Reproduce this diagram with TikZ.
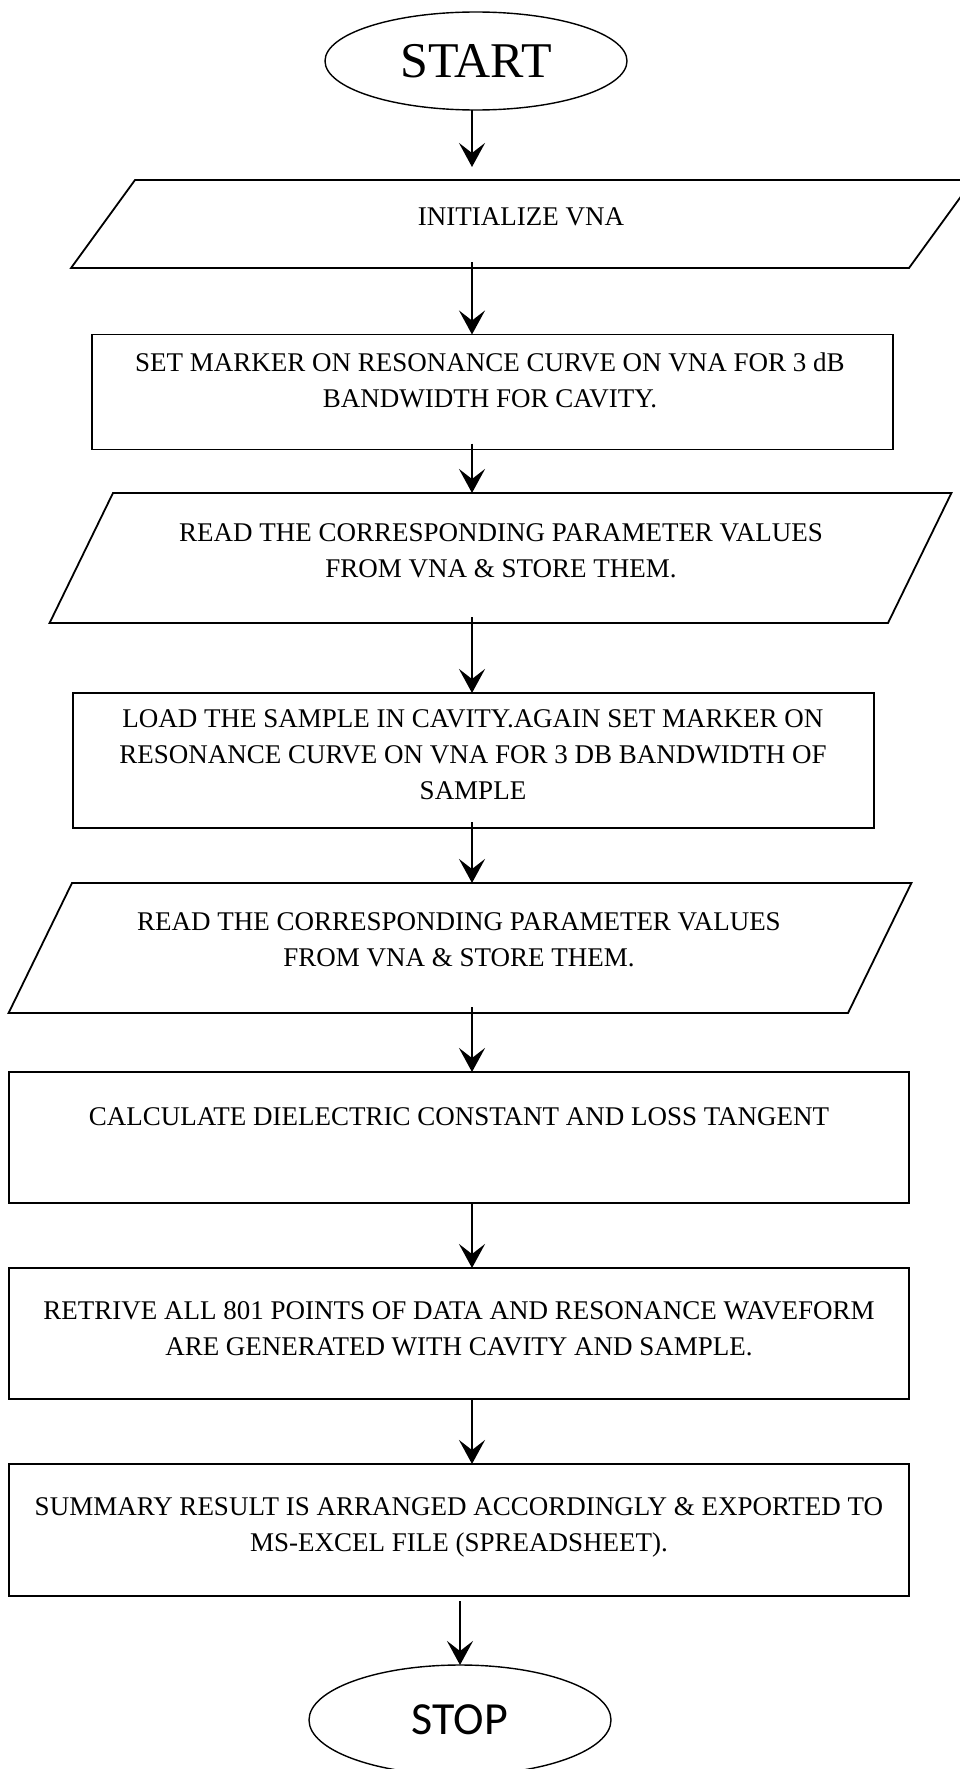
\documentclass[tikz,border=0pt]{standalone}
\usepackage{fontspec}
\setmainfont{Liberation Serif}
\newfontfamily\stopfont{Carlito}
\usetikzlibrary{shapes.geometric,arrows.meta}

\tikzset{
  terminal/.style={draw,ellipse,line width=1.4pt,inner sep=0pt,outer sep=0pt,
    minimum width=302pt},
  iobox/.style={draw,trapezium,line width=1.8pt,outer sep=0pt},
  stepbox/.style={draw,rectangle,line width=1.8pt,inner sep=0pt,outer sep=0pt},
  lbl/.style={align=center,font=\fontsize{27}{36}\selectfont},
  flow/.style={-{Stealth[length=24pt,width=26pt,inset=10pt]},line width=2.6pt},
  inside/.style={shorten <=-6pt}
}

\begin{document}
\begin{tikzpicture}[x=1pt,y=-1pt]
        \useasboundingbox (0,0) rectangle (960,1769);
        \coordinate (axis) at (472,0);

        \node[terminal,minimum height=98pt,font=\fontsize{50}{54}\selectfont]
          (start) at (476,61) {START};

        \node[iobox,trapezium left angle=54,trapezium right angle=126,
          inner xsep=387pt,inner ysep=44pt] (init) at (522,224) {};
        \node[lbl] (initlbl) at (521,217) {INITIALIZE VNA};

        \node[stepbox,minimum width=801pt,minimum height=115pt]
          (marker) at (492.5,392) {};
        \node[lbl] (markerlbl) at (490,380)
          {SET MARKER ON RESONANCE CURVE ON VNA FOR 3 dB\\BANDWIDTH FOR CAVITY.};

        \node[iobox,trapezium left angle=64,trapezium right angle=116,
          inner xsep=387.5pt,inner ysep=65pt] (readcav) at (500.5,558) {};
        \node[lbl] (readcavlbl) at (501,551)
          {READ THE CORRESPONDING PARAMETER VALUES\\FROM VNA \& STORE THEM.};

        \node[stepbox,minimum width=801pt,minimum height=135pt]
          (load) at (473.5,760.5) {};
        \node[lbl] (loadlbl) at (473,755)
          {LOAD THE SAMPLE IN CAVITY.AGAIN SET MARKER ON\\
           RESONANCE CURVE ON VNA FOR 3 DB BANDWIDTH OF\\SAMPLE};

        \node[iobox,trapezium left angle=64,trapezium right angle=116,
          inner xsep=388pt,inner ysep=65pt] (readsam) at (460,948) {};
        \node[lbl] (readsamlbl) at (459,940)
          {READ THE CORRESPONDING PARAMETER VALUES\\FROM VNA \& STORE THEM.};

        \node[stepbox,minimum width=900pt,minimum height=131pt]
          (calc) at (459,1137.5) {};
        \node[lbl] (calclbl) at (459,1117)
          {CALCULATE DIELECTRIC CONSTANT AND LOSS TANGENT};

        \node[stepbox,minimum width=900pt,minimum height=131pt]
          (fetch) at (459,1333.5) {};
        \node[lbl] (fetchlbl) at (459,1329)
          {RETRIVE ALL 801 POINTS OF DATA AND RESONANCE WAVEFORM\\
           ARE GENERATED WITH CAVITY AND SAMPLE.};

        \node[stepbox,minimum width=900pt,minimum height=132pt]
          (summary) at (459,1530) {};
        \node[lbl] (summarylbl) at (459,1527)
          {SUMMARY RESULT IS ARRANGED ACCORDINGLY \& EXPORTED TO\\
           MS-EXCEL FILE (SPREADSHEET).};

        \node[terminal,minimum height=110pt,font=\stopfont\fontsize{46}{50}\selectfont]
          (stop) at (460,1720) {STOP};

        \draw[flow,shorten >=13pt] (start.south -| axis) -- (init.north -| axis);
        \draw[flow,inside] (init.south -| axis) -- (marker.north -| axis);
        \draw[flow,inside] (marker.south -| axis) -- (readcav.north -| axis);
        \draw[flow,inside] (readcav.south -| axis) -- (load.north -| axis);
        \draw[flow,inside] (load.south -| axis) -- (readsam.north -| axis);
        \draw[flow,inside] (readsam.south -| axis) -- (calc.north -| axis);
        \draw[flow] (calc.south -| axis) -- (fetch.north -| axis);
        \draw[flow] (fetch.south -| axis) -- (summary.north -| axis);
        \draw[flow,shorten <=5pt] (summary.south -| stop) -- (stop.north);
      \end{tikzpicture}
\end{document}
